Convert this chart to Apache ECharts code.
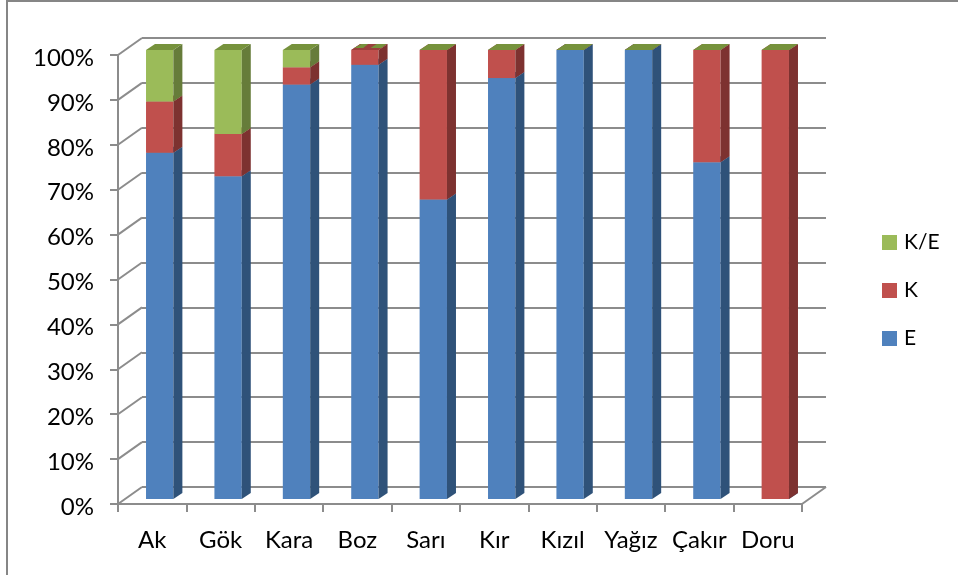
<!DOCTYPE html>
<html>
<head>
<meta charset="utf-8">
<title>Chart</title>
<script src="https://cdn.jsdelivr.net/npm/echarts@6/dist/echarts.min.js"></script>
<style>
  html, body { margin: 0; padding: 0; background: #fff; }
  #chart { width: 958px; height: 575px; }
</style>
</head>
<body>
<div id="chart"></div>
<script>
const categories = ['Ak', 'Gök', 'Kara', 'Boz', 'Sarı', 'Kır', 'Kızıl', 'Yağız', 'Çakır', 'Doru']
const valuesE = [77.1, 71.9, 92.3, 96.7, 66.7, 93.75, 100, 100, 75, 0]
const valuesK = [11.45, 9.4, 3.85, 3.3, 33.3, 6.25, 0, 0, 25, 100]
const valuesKE = [11.45, 18.7, 3.85, 0, 0, 0, 0, 0, 0, 0]
const wallTicks = [0, 10, 20, 30, 40, 50, 60, 70, 80, 90, 100]
// in the picture the red top of this bar shows through the green cap
const mixedTop = ['Boz']

const fontName = 'Lato'
const lineGray = '#8c8c8c'

const colorsE = ['#4f81bd', '#2f5279', '#3d6596']
const colorsK = ['#c0504d', '#7d3230', '#9a403d']
const colorsKE = ['#9bbb59', '#667c3a', '#76923c']

// bar depth in px, the walls are deeper than the bars
const barDepth = [9, -6]
const wallDepth = [24, -17]

const stackRows = (vals, lower) =>
  vals.map((v, i) => {
    const base = lower ? lower.reduce((s, arr) => s + arr[i], 0) : 0
    return [i, base, base + v]
  })

const renderBox = (colors) => (params, api) => {
  const x = api.coord([api.value(0), 0])[0]
  const w = api.size([1, 0])[0] * 0.4
  const yLow = api.coord([0, api.value(1)])[1]
  const yTop = api.coord([0, api.value(2)])[1]
  const x0 = x - w / 2
  const x1 = x + w / 2
  const [dx, dy] = barDepth
  const poly = (points, fill) => ({
    type: 'polygon',
    shape: { points },
    style: { fill }
  })
  const children = [
    poly([[x0, yLow], [x1, yLow], [x1, yTop], [x0, yTop]], colors[0]),
    poly([[x1, yLow], [x1 + dx, yLow + dy], [x1 + dx, yTop + dy], [x1, yTop]], colors[1])
  ]
  if (colors === colorsKE && mixedTop.includes(categories[api.value(0)])) {
    children.push(poly([[x0, yTop], [x1, yTop], [x1 + dx, yTop + dy], [x0 + dx, yTop + dy]], colorsK[2]))
    children.push(poly([[x0 + 3, yTop - 2], [x0 + dx + 1, yTop + dy], [x0 + dx + 8, yTop + dy], [x0 + 12, yTop - 2]], colors[2]))
    children.push(poly([[x1 - 8, yTop - 2], [x1 - 2, yTop + dy], [x1 + dx - 1, yTop + dy], [x1 + 3, yTop - 2]], colors[2]))
  } else {
    children.push(poly([[x0, yTop], [x1, yTop], [x1 + dx, yTop + dy], [x0 + dx, yTop + dy]], colors[2]))
  }
  return { type: 'group', children }
}

const barSeries = (name, data, colors, z) => ({
  name,
  type: 'custom',
  xAxisIndex: 2,
  yAxisIndex: 2,
  z,
  itemStyle: { color: colors[0] },
  renderItem: renderBox(colors),
  encode: { x: 0, y: 2 },
  data
})

// diagonals of the left wall and the right floor edge
const wallLines = {
  type: 'custom',
  xAxisIndex: 0,
  yAxisIndex: 0,
  z: 1,
  silent: true,
  renderItem: (params, api) => {
    const p = api.coord([api.value(0), api.value(1)])
    const size = api.size([1, 0])[0]
    const x = p[0] + api.value(2) * size / 2
    return {
      type: 'line',
      shape: { x1: x, y1: p[1], x2: x + wallDepth[0], y2: p[1] + wallDepth[1] },
      style: { stroke: lineGray, lineWidth: 2 }
    }
  },
  data: wallTicks.map(t => [0, t, -1]).concat([[categories.length - 1, 0, 1]])
}

const option = {
  animation: false,
  backgroundColor: '#fff',
  textStyle: { fontFamily: fontName },
  graphic: [{
    type: 'rect',
    shape: { x: 7, y: 1, width: 1000, height: 700 },
    style: { fill: 'none', stroke: '#868686', lineWidth: 2 },
    silent: true
  }],
  legend: {
    orient: 'vertical',
    left: 882,
    top: 232,
    padding: 0,
    icon: 'rect',
    itemWidth: 15,
    itemHeight: 15,
    itemGap: 27,
    selectedMode: false,
    data: ['K/E', 'K', 'E'],
    textStyle: { fontFamily: fontName, fontSize: 21, color: '#000', padding: [0, 0, 0, 2], lineHeight: 15 }
  },
  grid: [
    { left: 118, top: 55, width: 684, height: 449 },   // front, axes and labels
    { left: 142, top: 38, width: 684, height: 449 },   // back wall
    { left: 125.5, top: 50, width: 684, height: 449 }  // plane of the bars
  ],
  xAxis: [
    {
      gridIndex: 0,
      type: 'category',
      data: categories,
      axisLine: { lineStyle: { color: lineGray, width: 2 } },
      axisTick: { show: true, alignWithLabel: false, length: 8, lineStyle: { color: lineGray, width: 2 } },
      axisLabel: { color: '#000', fontSize: 24, fontFamily: fontName, margin: 24, interval: 0 }
    },
    { gridIndex: 1, type: 'category', data: categories, axisLine: { show: false }, axisTick: { show: false }, axisLabel: { show: false } },
    { gridIndex: 2, type: 'category', data: categories, axisLine: { show: false }, axisTick: { show: false }, axisLabel: { show: false } }
  ],
  yAxis: [
    {
      gridIndex: 0,
      type: 'value',
      min: 0,
      max: 100,
      interval: 10,
      axisLine: { show: true, lineStyle: { color: lineGray, width: 2 } },
      axisTick: { show: true, length: 8, lineStyle: { color: lineGray, width: 2 } },
      // top aligned with a short line box puts the digits a little under the tick, as in the picture
      axisLabel: { color: '#000', fontSize: 24, fontFamily: fontName, formatter: '{value}%', margin: 24, verticalAlign: 'top', lineHeight: 6 },
      splitLine: { show: false }
    },
    {
      gridIndex: 1,
      type: 'value',
      min: 0,
      max: 100,
      interval: 10,
      axisLine: { show: false },
      axisTick: { show: false },
      axisLabel: { show: false },
      splitLine: { show: true, lineStyle: { color: lineGray, width: 2 } }
    },
    {
      gridIndex: 2,
      type: 'value',
      min: 0,
      max: 100,
      interval: 10,
      axisLine: { show: false },
      axisTick: { show: false },
      axisLabel: { show: false },
      splitLine: { show: false }
    }
  ],
  series: [
    wallLines,
    barSeries('E', stackRows(valuesE), colorsE, 3),
    barSeries('K', stackRows(valuesK, [valuesE]), colorsK, 4),
    barSeries('K/E', stackRows(valuesKE, [valuesE, valuesK]), colorsKE, 5)
  ]
}

const myChart = echarts.init(document.getElementById('chart'))
myChart.setOption(option)
</script>
</body>
</html>
